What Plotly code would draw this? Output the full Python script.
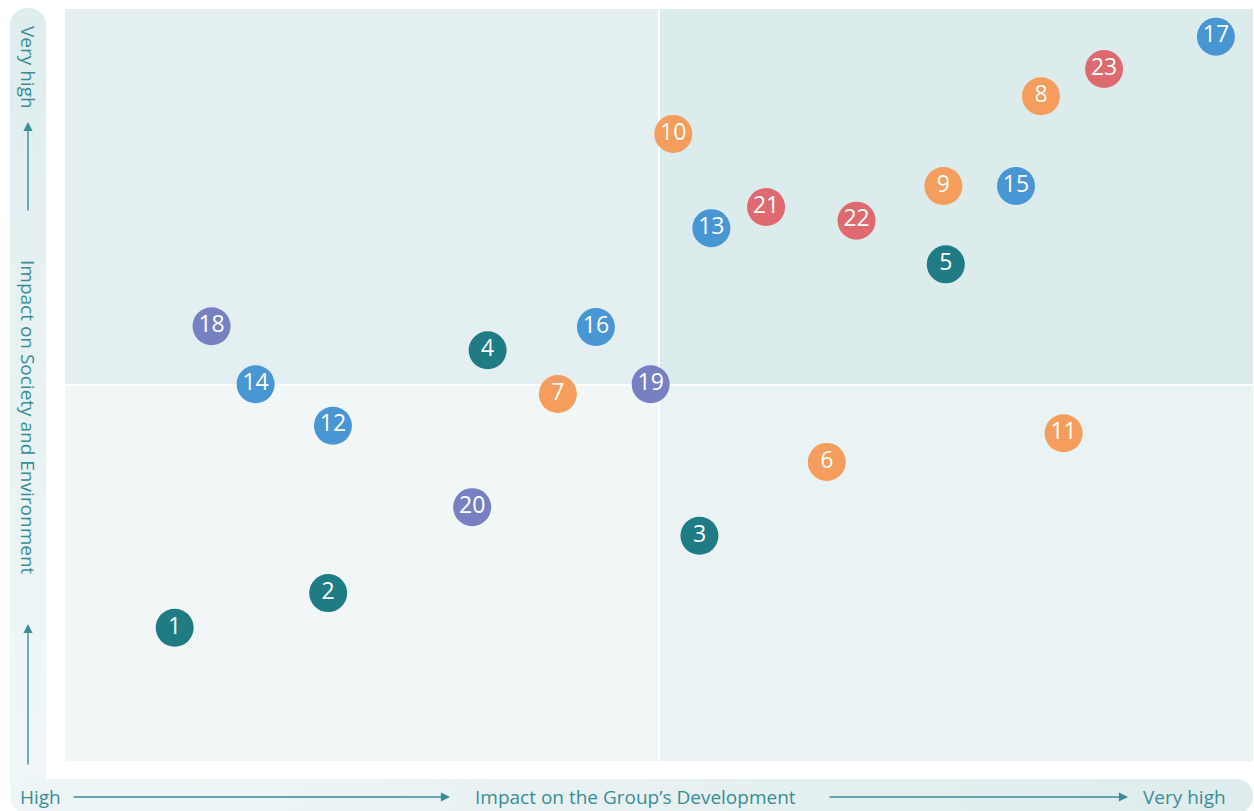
import base64
import plotly.graph_objects as go

# issue ids, positions on the two impact scales (0-10), and issue group
issue_ids = [str(i) for i in range(1, 24)]
impact_group = [0.93, 2.22, 5.34, 3.56, 7.41, 6.41, 4.15, 8.21, 7.39, 5.12, 8.40,
                2.26, 5.44, 1.61, 8.00, 4.47, 9.68, 1.24, 4.93, 3.43, 5.90, 6.66, 8.74]
impact_society = [1.78, 2.24, 3.00, 5.46, 6.60, 3.98, 4.88, 8.83, 7.64, 8.33, 4.36,
                  4.46, 7.08, 5.01, 7.64, 5.77, 9.62, 5.78, 5.01, 3.38, 7.36, 7.18, 9.19]
groups = ["teal"] * 5 + ["orange"] * 6 + ["blue"] * 6 + ["purple"] * 3 + ["red"] * 3

group_colors = {
    "teal": "#207c84",
    "orange": "#f49d5c",
    "blue": "#4896d3",
    "purple": "#7781c1",
    "red": "#de6a6f",
}

W, H = 1254, 811
L, R, T, B = 64, 1254, 8, 762


def px(x):
    return (x - L) / (R - L)


def py(y):
    return (B - y) / (B - T)


fig = go.Figure()

fig.add_trace(go.Scatter(
    x=impact_group,
    y=impact_society,
    mode="markers+text",
    text=issue_ids,
    textposition="middle center",
    textfont=dict(color="white", size=23, family="Open Sans"),
    marker=dict(size=38, color=[group_colors[g] for g in groups], line=dict(width=0)),
    hoverinfo="skip",
    showlegend=False,
))

# quadrant backgrounds
quads = [(0, 5, 5, 10, "#e3eff0"), (5, 10, 5, 10, "#dcebec"),
         (0, 5, 0, 5, "#f1f7f7"), (5, 10, 0, 5, "#e9f3f4")]
for x0, x1, y0, y1, c in quads:
    fig.add_shape(type="rect", x0=x0, x1=x1, y0=y0, y1=y1, fillcolor=c,
                  line=dict(color="white", width=2), layer="below")

# gradient strips behind the axis labels
svg = f"""<svg xmlns='http://www.w3.org/2000/svg' width='{W}' height='{H}' viewBox='0 0 {W} {H}'>
<defs>
<linearGradient id='gv' x1='0' y1='0' x2='0' y2='1'>
<stop offset='0' stop-color='#dfedee'/><stop offset='1' stop-color='#f1f7f8'/></linearGradient>
<linearGradient id='gh' x1='0' y1='0' x2='1' y2='0'>
<stop offset='0' stop-color='#eef5f6'/><stop offset='1' stop-color='#dbeaeb'/></linearGradient>
</defs>
<rect x='10' y='8' width='36' height='796' rx='17' fill='url(#gv)'/>
<rect x='10' y='779' width='1243' height='34' rx='16' fill='url(#gh)' fill-opacity='0.9'/>
</svg>"""
src = "data:image/svg+xml;base64," + base64.b64encode(svg.encode()).decode()
fig.add_layout_image(dict(source=src, xref="paper", yref="paper", x=px(0), y=py(0),
                          sizex=W / (R - L), sizey=H / (B - T), xanchor="left", yanchor="top",
                          sizing="stretch", layer="below"))

tc = "#3a8d95"
lab_font = dict(family="Open Sans", size=19, color=tc)

# y axis labels
fig.add_annotation(text="Very high", xref="paper", yref="paper", x=px(28), y=py(67),
                   xanchor="center", yanchor="middle",
                   textangle=90, showarrow=False, font=lab_font)
fig.add_annotation(text="Impact on Society and Environment", xref="paper", yref="paper",
                   x=px(28), y=py(417), xanchor="center", yanchor="middle",
                   textangle=90, showarrow=False, font=lab_font)
fig.add_annotation(text="", xref="paper", yref="paper", x=px(28), y=py(122),
                   ax=0, ay=90, showarrow=True, arrowhead=2, arrowsize=1.3, arrowwidth=1.4, arrowcolor=tc)
fig.add_annotation(text="", xref="paper", yref="paper", x=px(28), y=py(624),
                   ax=0, ay=142, showarrow=True, arrowhead=2, arrowsize=1.3, arrowwidth=1.4, arrowcolor=tc)

# x axis labels
fig.add_annotation(text="High", xref="paper", yref="paper", x=px(18), y=py(797),
                   xanchor="left", yanchor="middle", showarrow=False, font=lab_font)
fig.add_annotation(text="Impact on the Group’s Development", xref="paper", yref="paper",
                   x=px(635), y=py(797), xanchor="center", yanchor="middle",
                   showarrow=False, font=lab_font)
fig.add_annotation(text="Very high", xref="paper", yref="paper", x=px(1228), y=py(797),
                   xanchor="right", yanchor="middle", showarrow=False, font=lab_font)
fig.add_annotation(text="", xref="paper", yref="paper", x=px(450), y=py(797),
                   ax=-378, ay=0, showarrow=True, arrowhead=2, arrowsize=1.3, arrowwidth=1.4, arrowcolor=tc)
fig.add_annotation(text="", xref="paper", yref="paper", x=px(1128), y=py(797),
                   ax=-300, ay=0, showarrow=True, arrowhead=2, arrowsize=1.3, arrowwidth=1.4, arrowcolor=tc)

fig.update_xaxes(range=[0, 10], visible=False, fixedrange=True)
fig.update_yaxes(range=[0, 10], visible=False, fixedrange=True)
fig.update_layout(
    width=W, height=H,
    margin=dict(l=L, r=W - R, t=T, b=H - B),
    paper_bgcolor="white",
    plot_bgcolor="rgba(0,0,0,0)",
    font=dict(family="Open Sans"),
)

# drop the default body margin so the figure sits at the page origin
fig.write_html("out.html", config={"displayModeBar": False},
               post_script="document.body.style.margin='0';document.body.style.overflow='hidden';")
